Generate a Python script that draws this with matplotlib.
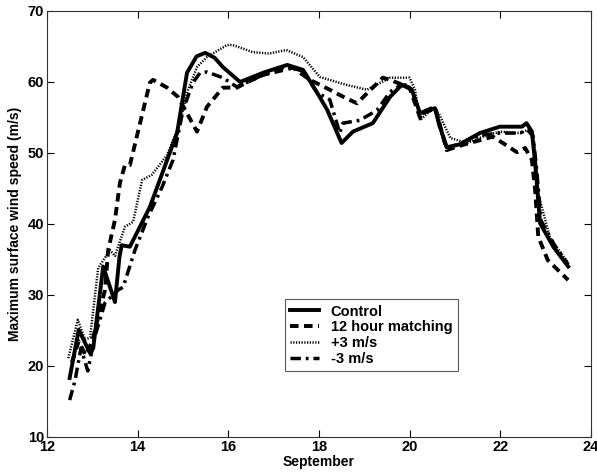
#!/usr/bin/env python3
import matplotlib
matplotlib.use("Agg")
import matplotlib.pyplot as plt

# Day of September vs maximum surface wind speed (m/s)
control_day = [12.5, 12.7, 12.95, 13.02, 13.24, 13.5, 13.6, 13.65, 13.83, 14.27, 14.87,
               15.09, 15.3, 15.49, 15.7, 15.88, 16.26, 16.77, 17.3, 17.65, 17.96, 18.18, 18.5,
               18.75, 19.19, 19.57, 19.83, 20.05, 20.23, 20.38, 20.56, 20.67, 20.82, 21.1,
               21.55, 21.99, 22.48, 22.58, 22.7, 22.77, 22.88, 23.17, 23.5]
control_wind = [18.3, 25.1, 21.8, 22.5, 34.0, 29.0, 35.4, 37.0, 36.8, 42.4, 52.8,
                61.3, 63.6, 64.1, 63.4, 62.1, 60.0, 61.3, 62.4, 61.7, 58.5, 56.1, 51.4,
                53.0, 54.2, 57.9, 59.6, 58.9, 55.6, 56.0, 56.3, 53.7, 50.8, 51.2,
                52.8, 53.7, 53.7, 54.2, 53.0, 48.6, 40.1, 36.8, 34.0]

match_day = [12.55, 12.7, 12.85, 13.0, 13.28, 13.35, 13.5, 13.61, 13.72, 13.83, 14.27,
             14.34, 14.65, 14.89, 15.31, 15.53, 15.88, 16.19, 16.43, 16.77, 17.43, 17.8,
             18.24, 18.6, 18.84, 19.41, 19.57, 20.0, 20.23, 20.38, 20.56, 20.82, 21.1,
             21.84, 22.37, 22.55, 22.7, 22.77, 22.84, 23.05, 23.5]
match_wind = [20.5, 23.5, 21.5, 23.5, 30.7, 36.3, 40.6, 45.8, 48.3, 48.3, 59.9,
              60.3, 59.2, 57.9, 53.0, 56.5, 59.2, 59.2, 60.0, 61.0, 62.0, 60.3,
              58.9, 57.7, 57.0, 60.6, 60.3, 59.2, 55.0, 56.0, 56.5, 50.4, 51.0,
              52.3, 50.1, 50.7, 49.0, 44.8, 38.2, 34.9, 32.1]

plus3_day = [12.47, 12.68, 12.84, 12.95, 13.13, 13.39, 13.5, 13.72, 13.9, 14.1, 14.31,
             14.65, 14.93, 15.09, 15.31, 15.53, 15.97, 16.1, 16.54, 16.9, 17.28, 17.65,
             18.02, 18.6, 19.06, 19.57, 20.0, 20.12, 20.23, 20.52, 20.65, 20.9, 21.27,
             21.7, 22.0, 22.45, 22.62, 22.75, 22.85, 23.1, 23.5]
plus3_wind = [21.1, 26.5, 23.7, 24.0, 33.8, 36.3, 35.5, 39.6, 40.3, 46.2, 46.9,
              49.7, 54.2, 58.5, 62.1, 63.5, 65.2, 65.2, 64.2, 64.0, 64.5, 63.5,
              60.7, 59.6, 58.9, 60.6, 60.6, 58.9, 54.6, 56.3, 55.5, 52.1, 51.4,
              52.5, 53.0, 52.8, 53.3, 51.5, 44.0, 38.0, 34.5]

minus3_day = [12.5, 12.62, 12.75, 12.9, 13.05, 13.28, 13.57, 13.68, 13.94, 14.23, 14.54,
              14.78, 15.0, 15.22, 15.38, 15.53, 15.88, 16.19, 16.77, 17.3, 17.65, 17.96,
              18.24, 18.46, 18.53, 18.9, 19.28, 19.57, 19.74, 19.9, 20.05, 20.23, 20.38,
              20.56, 20.67, 20.82, 21.1, 21.55, 22.0, 22.43, 22.6, 22.72, 22.8, 22.9,
              23.2, 23.5]
minus3_wind = [15.2, 18.0, 22.5, 19.3, 24.0, 28.9, 30.7, 31.1, 36.3, 41.0, 45.2,
               49.0, 56.0, 59.9, 61.3, 61.4, 60.6, 59.3, 61.0, 62.2, 61.5, 58.5,
               57.5, 52.8, 54.2, 54.6, 56.0, 58.6, 59.3, 59.6, 58.9, 55.4, 55.8,
               56.2, 53.5, 50.8, 51.2, 52.5, 52.8, 52.8, 53.2, 52.5, 48.0, 40.5,
               37.0, 34.3]

series_labels = ["Control", "12 hour matching", "+3 m/s", "-3 m/s"]
x_ticks = [12, 14, 16, 18, 20, 22, 24]
y_ticks = [10, 20, 30, 40, 50, 60, 70]

plt.rcParams["font.family"] = ["Liberation Sans", "DejaVu Sans"]
plt.rcParams["font.weight"] = "bold"

fig = plt.figure(figsize=(5.97, 4.76), dpi=100)
ax = fig.add_axes([0.0787, 0.082, 0.911, 0.895])

ax.plot(control_day, control_wind, color="black", linewidth=2.8, linestyle="-", label=series_labels[0])
ax.plot(match_day, match_wind, color="black", linewidth=2.8, linestyle=(0, (2.2, 1.4)), label=series_labels[1])
ax.plot(plus3_day, plus3_wind, color="black", linewidth=1.8, linestyle=(0, (0.5, 0.6)), label=series_labels[2])
ax.plot(minus3_day, minus3_wind, color="black", linewidth=2.5, linestyle=(0, (3.0, 1.4, 0.8, 1.4)), label=series_labels[3])

ax.set_xlim(12, 24)
ax.set_ylim(10, 70)
ax.set_xticks(x_ticks)
ax.set_yticks(y_ticks)
ax.tick_params(direction="in", length=5, width=0.8, top=True, right=True, labelsize=10.5, pad=2)
for label in ax.get_xticklabels() + ax.get_yticklabels():
    label.set_fontweight("bold")
for spine in ax.spines.values():
    spine.set_linewidth(0.8)
    spine.set_color("#333333")

ax.set_xlabel("September", fontsize=10, fontweight="bold", labelpad=1)
ax.set_ylabel("Maximum surface wind speed (m/s)", fontsize=10, fontweight="bold", labelpad=4)

leg = ax.legend(loc="lower left", bbox_to_anchor=(0.4375, 0.155), fontsize=10.5, frameon=True,
                fancybox=False, edgecolor="#333333", handlelength=2.0, handletextpad=0.8,
                labelspacing=0.12, borderpad=0.35, borderaxespad=0)
leg.get_frame().set_linewidth(0.8)
for text in leg.get_texts():
    text.set_fontweight("bold")

fig.savefig("out.png", dpi=100)
